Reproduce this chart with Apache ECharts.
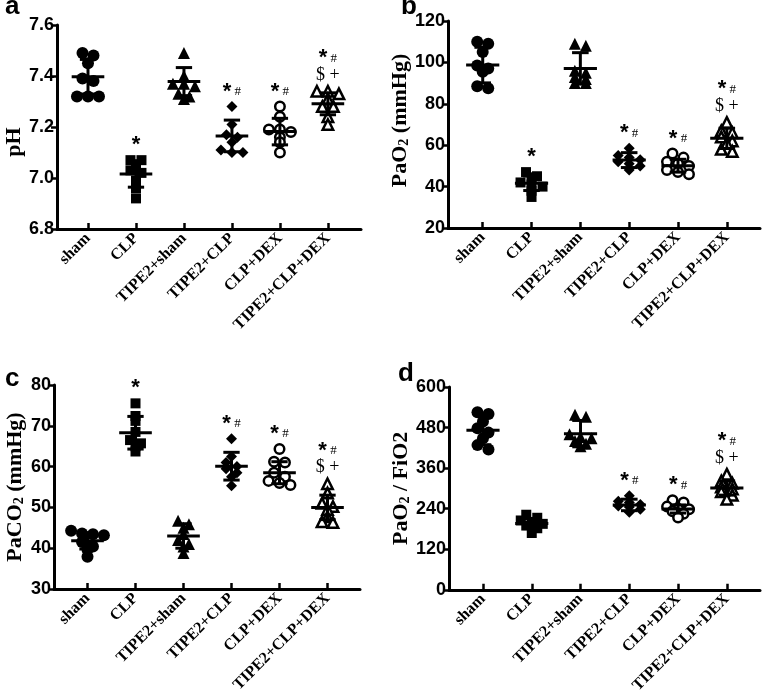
<!DOCTYPE html>
<html>
<head>
<meta charset="utf-8">
<script src="https://cdn.jsdelivr.net/npm/echarts@6/dist/echarts.min.js"></script>
<style>
  html, body { margin: 0; padding: 0; background: #fff; }
  #main { width: 762px; height: 696px; }
</style>
</head>
<body>
<div id="main"></div>
<script>
// group names on the x axis
var groups = ['sham', 'CLP', 'TIPE2+sham', 'TIPE2+CLP', 'CLP+DEX', 'TIPE2+CLP+DEX'];

// panel a : pH
var phValues = [
  [7.49, 7.48, 7.45, 7.39, 7.38, 7.32, 7.32, 7.32],
  [7.07, 7.07, 7.05, 7.03, 7.02, 6.99, 6.96, 6.92],
  [7.49, 7.40, 7.37, 7.37, 7.36, 7.33, 7.32, 7.31],
  [7.28, 7.21, 7.17, 7.16, 7.14, 7.11, 7.10, 7.10],
  [7.28, 7.24, 7.19, 7.19, 7.18, 7.16, 7.14, 7.10],
  [7.34, 7.34, 7.33, 7.31, 7.28, 7.28, 7.24, 7.21]
];
var phMean = [7.397, 7.016, 7.378, 7.165, 7.182, 7.291];
var phSD = [0.068, 0.052, 0.055, 0.062, 0.052, 0.043];

// panel b : PaO2
var pao2Values = [
  [110, 109, 105, 98.5, 97, 95.5, 88.5, 87.5],
  [47, 45, 44.5, 42, 41, 40, 38, 35],
  [109, 108, 96, 95, 93, 92, 90, 90],
  [58.5, 55, 54, 53, 52, 51, 50, 48],
  [56, 54, 52, 51, 50, 48, 47, 46],
  [71, 67, 66, 64, 62, 61, 58, 57]
];
var pao2Mean = [98.7, 41.6, 97.1, 52.8, 50.1, 63.3];
var pao2SD = [8.6, 3.5, 7.6, 3.6, 3.1, 4.9];

// panel c : PaCO2
var paco2Values = [
  [44.3, 43.6, 43.4, 43.2, 41.5, 40.4, 39.6, 37.9],
  [75.5, 72.4, 71.2, 68.5, 66.5, 65.7, 65, 63.7],
  [46.7, 45.9, 45, 43.5, 42, 41, 40.4, 38.8],
  [66.8, 62.5, 61, 60, 59.5, 58.5, 57.5, 55.3],
  [64.3, 61.2, 61, 58.5, 57.5, 56.5, 56, 55.5],
  [55.8, 53.5, 51, 50.2, 49.5, 47.7, 46.5, 46.3]
];
var paco2Mean = [41.8, 68.3, 43.0, 60.1, 58.5, 50.0];
var paco2SD = [2.0, 4.0, 3.0, 3.4, 2.7, 3.0];

// panel d : PaO2 / FiO2
var ratioValues = [
  [525, 520, 498, 478, 465, 448, 428, 415],
  [222, 213, 205, 200, 195, 190, 182, 168],
  [518, 512, 460, 452, 448, 440, 432, 425],
  [278, 262, 258, 252, 248, 245, 238, 229],
  [265, 258, 246, 240, 238, 232, 225, 214],
  [342, 322, 315, 304, 298, 290, 280, 268]
];
var ratioMean = [472, 196, 462, 251, 239, 301];
var ratioSD = [43, 15, 39, 17, 12, 21];

// significance marks above each group
var marksABC = ['', '*', '', '*#', '*#', '*#$+'];
var marksD = ['', '', '', '*#', '*#', '*#$+'];

// y axis ticks
var phTicks = {min: 6.8, max: 7.6, interval: 0.2};
var pao2Ticks = {min: 20, max: 120, interval: 20};
var paco2Ticks = {min: 30, max: 80, interval: 10};
var ratioTicks = {min: 0, max: 600, interval: 120};

var FONT_SANS = 'Liberation Sans, Arial, sans-serif';
var FONT_SERIF = 'Liberation Serif, Times New Roman, serif';

var panels = [
  {letter: 'a', values: phValues, mean: phMean, sd: phSD, ticks: phTicks, marks: marksABC,
   name: '{n|pH}', nameGap: 29, namePad: [0, 30, 0, 0], digits: 1,
   grid: {left: 57, top: 25, width: 304, height: 204}, xr: [-0.646, 5.69]},
  {letter: 'b', values: pao2Values, mean: pao2Mean, sd: pao2SD, ticks: pao2Ticks, marks: marksABC,
   name: '{n|PaO}{s|2}{n| (mmHg)}', nameGap: 33, namePad: [0, 0, 0, 8], digits: 0,
   grid: {left: 448, top: 21, width: 312, height: 207}, xr: [-0.711, 5.68]},
  {letter: 'c', values: paco2Values, mean: paco2Mean, sd: paco2SD, ticks: paco2Ticks, marks: marksABC,
   name: '{n|PaCO}{s|2}{n| (mmHg)}', nameGap: 28, namePad: [0, 0, 0, 0], digits: 0,
   grid: {left: 52, top: 385, width: 308, height: 204}, xr: [-0.698, 5.677]},
  {letter: 'd', values: ratioValues, mean: ratioMean, sd: ratioSD, ticks: ratioTicks, marks: marksD,
   name: '{n|PaO}{s|2}{n| / FiO2}', nameGap: 34, namePad: [0, 0, 0, 0], digits: 0,
   grid: {left: 449, top: 387, width: 311, height: 206}, xr: [-0.697, 5.68]}
];

// marker look per group
var shapes = [
  {symbol: 'circle', size: 12, open: false},
  {symbol: 'rect', size: 10, open: false},
  {symbol: 'triangle', size: 12, open: false},
  {symbol: 'diamond', size: 11, open: false},
  {symbol: 'circle', size: 9.5, open: true},
  {symbol: 'triangle', size: 10.5, open: true}
];

// spread equal-ish values sideways like a dot plot (rows centred on the group)
function swarm(vals, pxPerUnit, unitPx) {
  var idx = vals.map(function (v, i) { return i; });
  idx.sort(function (a, b) { return vals[b] - vals[a]; });
  var rows = [], cur = null;
  idx.forEach(function (i) {
    if (cur && (vals[cur[0]] - vals[i]) * pxPerUnit < 4.5) cur.push(i);
    else { cur = [i]; rows.push(cur); }
  });
  var off = new Array(vals.length);
  var step = 11 / unitPx;
  rows.forEach(function (r) {
    r.forEach(function (i, k) { off[i] = (k - (r.length - 1) / 2) * step; });
  });
  return off;
}

function markLabel(m) {
  if (m === '*') return '{st|*}';
  if (m === '*#') return '{st|*}{h| #}';
  if (m === '*#$+') return '{st|*}{h| #}\n{d|$ +}';
  return '';
}

var markRich = {
  st: {fontFamily: FONT_SANS, fontWeight: 'bold', fontSize: 22, lineHeight: 16, fill: '#000'},
  h: {fontFamily: FONT_SERIF, fontSize: 13, lineHeight: 16, fill: '#000'},
  d: {fontFamily: FONT_SERIF, fontSize: 18, lineHeight: 18, fill: '#000'}
};

var option = {
  animation: false,
  backgroundColor: '#fff',
  grid: [], xAxis: [], yAxis: [], series: [], graphic: []
};

panels.forEach(function (p, k) {
  option.grid.push(p.grid);
  var unitPx = p.grid.width / (p.xr[1] - p.xr[0]);
  var pxPerUnit = p.grid.height / (p.ticks.max - p.ticks.min);

  option.xAxis.push({
    gridIndex: k, type: 'value', min: p.xr[0], max: p.xr[1],
    splitLine: {show: false},
    axisLine: {show: true, onZero: false, lineStyle: {color: '#000', width: 3}},
    axisTick: {show: true, inside: true, length: 6, customValues: [0, 1, 2, 3, 4, 5],
      lineStyle: {color: '#000', width: 2.5}},
    axisLabel: {show: true, customValues: [0, 1, 2, 3, 4, 5], rotate: 45, margin: 7,
      color: '#000', fontFamily: FONT_SERIF, fontWeight: 'bold', fontSize: 16,
      formatter: function (v) { return groups[Math.round(v)]; }}
  });

  option.yAxis.push({
    gridIndex: k, type: 'value', min: p.ticks.min, max: p.ticks.max, interval: p.ticks.interval,
    splitLine: {show: false},
    axisLine: {show: true, onZero: false, lineStyle: {color: '#000', width: 3}},
    axisTick: {show: true, length: 6, lineStyle: {color: '#000', width: 2.5}},
    axisLabel: {margin: 3, color: '#000', fontFamily: FONT_SANS, fontWeight: 'bold', fontSize: 18,
      formatter: (function (d) { return function (v) { return v.toFixed(d); }; })(p.digits)},
    name: p.name, nameLocation: 'middle', nameRotate: 90, nameGap: p.nameGap,
    nameTextStyle: {
      padding: p.namePad,
      rich: {
        n: {fontFamily: FONT_SERIF, fontWeight: 'bold', fontSize: 22, lineHeight: 22, color: '#000', verticalAlign: 'top'},
        s: {fontFamily: FONT_SERIF, fontWeight: 'bold', fontSize: 14, lineHeight: 14, color: '#000',
            verticalAlign: 'bottom', padding: [11, 0, 0, 0]}
      }
    }
  });

  // individual animals
  p.values.forEach(function (vals, g) {
    var off = swarm(vals, pxPerUnit, unitPx);
    var sh = shapes[g];
    option.series.push({
      type: 'scatter', xAxisIndex: k, yAxisIndex: k, silent: true,
      symbol: sh.symbol, symbolSize: sh.size,
      itemStyle: sh.open
        ? {color: '#fff', borderColor: '#000', borderWidth: 2.5, opacity: 1}
        : {color: '#000', opacity: 1},
      data: vals.map(function (v, i) { return [g + off[i], v]; }),
      z: 2
    });
  });

  // mean and SD bars
  option.series.push({
    type: 'custom', xAxisIndex: k, yAxisIndex: k, silent: true, z: 3,
    data: p.mean.map(function (m, g) { return [g, m, p.sd[g]]; }),
    renderItem: function (params, api) {
      var x = api.value(0), m = api.value(1), s = api.value(2);
      var c = api.coord([x, m]);
      var hi = api.coord([x, m + s]);
      var lo = api.coord([x, m - s]);
      var w = api.size([1, 0])[0];
      var st = {stroke: '#000', lineWidth: 3, fill: null};
      return {
        type: 'group',
        children: [
          {type: 'line', shape: {x1: c[0] - w * 0.34, y1: c[1], x2: c[0] + w * 0.34, y2: c[1]}, style: st},
          {type: 'line', shape: {x1: c[0], y1: hi[1], x2: c[0], y2: lo[1]}, style: st},
          {type: 'line', shape: {x1: c[0] - w * 0.17, y1: hi[1], x2: c[0] + w * 0.17, y2: hi[1]}, style: st},
          {type: 'line', shape: {x1: c[0] - w * 0.17, y1: lo[1], x2: c[0] + w * 0.17, y2: lo[1]}, style: st}
        ]
      };
    }
  });

  // significance marks placed above the highest point / error bar of each group
  option.series.push({
    type: 'custom', xAxisIndex: k, yAxisIndex: k, silent: true, z: 4,
    data: p.values.map(function (vals, g) {
      return [g, Math.max(Math.max.apply(null, vals), p.mean[g] + p.sd[g])];
    }),
    renderItem: (function (mk) {
      return function (params, api) {
        var c = api.coord([api.value(0), api.value(1)]);
        var txt = markLabel(mk[params.dataIndex]);
        if (!txt) return null;
        return {
          type: 'text', x: c[0], y: c[1] - 7,
          style: {text: txt, rich: markRich, align: 'center', verticalAlign: 'bottom', fill: '#000'}
        };
      };
    })(p.marks)
  });
});

// panel letters
var letterPos = [[5, 20], [401, 20], [5, 392], [398, 387]];
panels.forEach(function (p, k) {
  option.graphic.push({
    type: 'text', x: letterPos[k][0], y: letterPos[k][1],
    style: {text: p.letter, font: 'bold 26px ' + FONT_SANS, fill: '#000', verticalAlign: 'bottom'}
  });
});

var myChart = echarts.init(document.getElementById('main'));
myChart.setOption(option);
</script>
</body>
</html>
